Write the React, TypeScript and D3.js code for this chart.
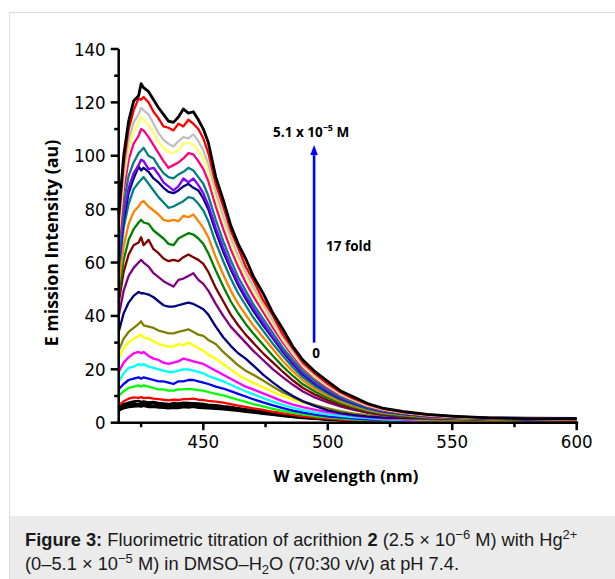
import React from 'react';
import * as d3 from 'd3';

// shared wavelength grid (nm)
const wavelengths = [416, 418, 420, 422, 424, 425, 426, 428, 430, 432, 434, 436, 438, 440, 442, 444, 446, 448, 450, 452, 455, 458, 461, 464, 467, 470, 474, 478, 482, 486, 490, 495, 500, 505, 510, 516, 522, 530, 540, 550, 565, 580, 600];

// emission spectra, lowest Hg2+ concentration first
const k1 = [4.5, 5.4, 5.8, 6, 6.2, 6, 6.3, 5.8, 5.9, 5.7, 5.6, 5.4, 5.6, 5.5, 5.8, 5.7, 5.9, 5.6, 5.5, 5.4, 5.2, 5, 4.7, 4.4, 4.1, 3.8, 3.3, 2.9, 2.5, 2.1, 1.7, 1.4, 1.1, 0.9, 0.7, 0.6, 0.5, 0.4, 0.3, 0.3, 0.2, 0.2, 0.2];
const k2 = [5, 6, 6.3, 6.6, 6.8, 6.5, 6.7, 6.4, 6.2, 6.4, 6, 6.1, 5.9, 6.2, 6.3, 6.1, 6.4, 6.2, 6, 5.9, 5.7, 5.4, 5.1, 4.7, 4.4, 4.1, 3.6, 3.1, 2.7, 2.2, 1.9, 1.5, 1.2, 1, 0.8, 0.6, 0.5, 0.4, 0.3, 0.3, 0.3, 0.2, 0.2];
const k3 = [5.5, 6.5, 7, 7.3, 7, 7.5, 7.2, 7, 7.2, 6.8, 6.6, 6.8, 6.5, 6.7, 6.6, 7, 6.8, 6.6, 6.5, 6.3, 6.1, 5.8, 5.5, 5.1, 4.7, 4.4, 3.9, 3.4, 2.9, 2.4, 2, 1.6, 1.3, 1, 0.8, 0.7, 0.5, 0.4, 0.4, 0.3, 0.3, 0.3, 0.3];
const k4 = [6, 7, 7.5, 8, 8.2, 7.8, 8, 7.6, 7.8, 7.4, 7.2, 7, 7.3, 7.2, 7.5, 7.4, 7.3, 7.2, 7, 6.8, 6.6, 6.2, 5.9, 5.5, 5.1, 4.7, 4.2, 3.6, 3.1, 2.6, 2.2, 1.7, 1.4, 1.1, 0.9, 0.7, 0.6, 0.5, 0.4, 0.4, 0.3, 0.3, 0.3];
const red1 = [6.5, 8, 9, 9.5, 9.3, 9.6, 9.2, 9.4, 9, 8.8, 8.6, 8.4, 8.6, 8.5, 8.8, 8.8, 9, 8.6, 8.5, 8.2, 7.9, 7.5, 7, 6.4, 5.9, 5.4, 4.8, 4.1, 3.5, 2.9, 2.4, 1.9, 1.5, 1.2, 1, 0.8, 0.7, 0.6, 0.5, 0.5, 0.4, 0.4, 0.4];
const lime = [10, 11.8, 13, 13.5, 14, 13.5, 14, 13.5, 13, 12.5, 12.5, 12, 12, 12.5, 12.5, 12.7, 12.5, 12.2, 12, 11.5, 10.8, 10.2, 9.4, 8.6, 7.8, 7, 6.1, 5.2, 4.4, 3.7, 3.1, 2.5, 2, 1.6, 1.3, 1.1, 0.9, 0.7, 0.6, 0.5, 0.5, 0.4, 0.4];
const blue = [12.5, 14.5, 16, 16.5, 17, 16.5, 17, 16.5, 16, 15.5, 15.5, 15, 14.5, 15.5, 15.5, 16, 16, 15.5, 15, 14.5, 13.5, 12.8, 11.8, 10.8, 9.8, 8.8, 7.6, 6.5, 5.5, 4.5, 3.8, 3, 2.4, 2, 1.6, 1.3, 1.1, 0.9, 0.7, 0.6, 0.5, 0.5, 0.5];
const cyan = [15.5, 18.5, 20.5, 21, 22, 21.5, 22, 21, 20.5, 20, 19.5, 19, 19, 19.5, 20, 20, 19.5, 19, 18.5, 17.5, 16.5, 15.5, 14.2, 13, 11.8, 10.7, 9.2, 7.9, 6.7, 5.6, 4.7, 3.8, 3.1, 2.6, 2.1, 1.7, 1.3, 1, 0.8, 0.7, 0.6, 0.6, 0.5];
const magenta = [19, 22.5, 24.5, 26, 26.5, 26, 26.5, 25, 24, 23.5, 22.5, 22, 22.5, 23, 24, 23.5, 23, 22.5, 22, 21, 19.5, 18, 16.5, 15, 13.5, 12.5, 11, 9.5, 8, 6.8, 5.8, 4.8, 4, 3.3, 2.7, 2.1, 1.6, 1.2, 0.9, 0.8, 0.7, 0.7, 0.6];
const yellow1 = [24, 28, 30, 31.5, 32.5, 33, 32, 31.5, 30.5, 29.5, 29, 28.5, 28.5, 29.5, 29, 30, 29, 28, 27, 25.5, 24, 22, 20, 18, 16.3, 15, 13.3, 11.5, 10, 8.7, 7.5, 6.2, 5.2, 4.2, 3.4, 2.6, 2, 1.5, 1.1, 0.9, 0.8, 0.7, 0.7];
const olive = [27, 31.5, 34, 35.5, 37, 38, 36.5, 36, 35.5, 34.5, 34, 33.5, 33.5, 34, 34.5, 35, 34, 33, 32.5, 31, 29.5, 26.5, 24, 21.5, 19.5, 18, 15.8, 13.5, 11.3, 9.6, 8, 6.6, 5.4, 4.3, 3.5, 2.7, 2.1, 1.6, 1.2, 1, 0.9, 0.8, 0.8];
const navy1 = [34, 41, 45, 47.5, 49, 48.5, 48.5, 48, 47, 45.5, 44, 43.5, 43.5, 44, 44.5, 45, 44.5, 43.5, 42.5, 40.5, 36, 32, 28.8, 26, 24, 21.5, 18, 15, 12.3, 10, 8, 6.2, 4.6, 3.6, 2.9, 2.3, 1.9, 1.7, 1.6, 1.7, 1.9, 1.8, 1.75];
const purple = [40, 49.5, 55, 58, 60, 61, 60, 58.5, 56, 54.5, 53, 52, 51, 53.5, 54, 55, 56, 53.5, 52, 49.5, 44.5, 40, 36, 33, 30, 27, 23.5, 20, 17, 14.2, 11.7, 9.4, 7.6, 6.1, 4.9, 3.7, 2.8, 2.2, 1.7, 1.4, 1.1, 1, 0.9];
const maroon = [45, 56.5, 63, 66.5, 67.5, 69.5, 66.5, 68.5, 65, 63.5, 61.5, 60.5, 61, 60.5, 62, 63, 62, 61, 59.5, 56.5, 50.5, 45.5, 40.5, 36.5, 33, 30, 26, 22.5, 19, 15.8, 13, 10.5, 8.4, 6.7, 5.4, 4, 3.1, 2.4, 1.8, 1.5, 1.2, 1, 0.9];
const green = [48, 61, 68.5, 72.5, 75, 76, 75, 74.5, 72, 70.5, 69, 67, 66.5, 69, 70, 71, 70.5, 69, 67, 63.5, 57, 51, 45.5, 41, 37, 33.5, 29.2, 25, 21, 17.5, 14.4, 11.6, 9.3, 7.3, 5.9, 4.4, 3.4, 2.6, 2, 1.6, 1.2, 1, 0.9];
const orange = [52, 66, 74.5, 79, 81, 82.5, 83, 81, 79.5, 78, 76, 75.5, 76, 75.5, 77.5, 77, 78, 75.5, 73, 69.5, 62, 55.5, 49.5, 44.5, 40.5, 36.5, 32, 27.5, 23, 19.2, 15.8, 12.6, 10.1, 8, 6.4, 4.8, 3.7, 2.9, 2.1, 1.7, 1.3, 1.1, 1];
const teal1 = [57, 73, 82, 87.5, 90, 91, 92, 89.5, 87, 84.5, 82.5, 80.5, 81, 82, 83, 84.5, 84, 82, 79.5, 75.5, 67.5, 60.5, 54, 48.5, 44, 39.5, 34.5, 29.5, 25, 20.7, 17, 13.6, 10.9, 8.6, 6.9, 5.2, 4, 3.1, 2.3, 1.8, 1.4, 1.2, 1];
const navy2 = [60, 76, 86, 91.5, 96, 94.5, 95.5, 94, 91.5, 90, 88, 86.5, 86, 87, 88.5, 89.5, 88, 87, 84, 80, 71.5, 64, 57.5, 51.5, 46.5, 42, 36.5, 31.5, 26.5, 22, 18, 14.5, 11.6, 9.2, 7.4, 5.6, 4.3, 3.3, 2.5, 2, 1.5, 1.3, 1.1];
const violet = [61, 78, 88, 93.5, 96.5, 98.5, 98, 95, 95.5, 93, 90, 88.5, 87, 88.5, 91.5, 90, 91.5, 89, 86, 81.5, 73, 65.5, 58.5, 52.5, 47.5, 43, 37.5, 32, 27, 22.5, 18.5, 14.8, 11.9, 9.4, 7.6, 5.7, 4.4, 3.4, 2.5, 2, 1.6, 1.3, 1.1];
const teal2 = [64, 82, 92.5, 97.5, 101, 102, 103, 100, 99, 96, 93.5, 92, 91.5, 93, 94, 95.5, 94.5, 92, 89.5, 85, 76, 68, 61, 54.5, 49.5, 44.5, 39, 33.5, 28, 23.5, 19.3, 15.5, 12.4, 9.8, 7.9, 5.9, 4.6, 3.5, 2.6, 2.1, 1.6, 1.4, 1.2];
const pink = [68, 87, 98.5, 104.5, 107.5, 110, 109.5, 107, 104, 101, 98, 95.5, 96.5, 97.5, 99, 101, 100.5, 98, 95, 90.5, 81, 72.5, 65, 58.5, 52.5, 47.5, 41.5, 35.5, 30, 25, 20.5, 16.5, 13.2, 10.4, 8.4, 6.2, 4.8, 3.7, 2.7, 2.2, 1.7, 1.4, 1.2];
const yellow2 = [71, 91, 102.5, 109, 112.5, 114.5, 113.5, 111.5, 108.5, 105, 103, 101.5, 101, 102, 104.5, 105, 104, 102, 99, 94, 84, 75.5, 67.5, 60.5, 55, 49.5, 43, 37, 31, 25.8, 21.2, 17, 13.6, 10.7, 8.6, 6.4, 5, 3.8, 2.8, 2.2, 1.7, 1.4, 1.2];
const gray = [73, 94, 106, 112.5, 115.5, 118, 117, 115.5, 112, 108.5, 106, 104.5, 103.5, 105.5, 107, 106.5, 108, 105.5, 102, 97, 86.5, 77.5, 69.5, 62.5, 56.5, 51, 44.5, 38, 32, 26.5, 21.8, 17.5, 14, 11, 8.8, 6.6, 5.1, 3.9, 2.9, 2.3, 1.8, 1.5, 1.3];
const red2 = [76, 97, 110, 117, 121.5, 121, 122, 120, 116.5, 114, 111, 110.5, 109.5, 112, 111, 113.5, 112, 110, 106.5, 101, 89.5, 81, 72, 65.5, 58.5, 53.5, 46, 40, 33, 27.8, 22.5, 18.3, 14.6, 11.5, 9.2, 6.9, 5.3, 4, 3, 2.4, 1.8, 1.5, 1.3];
const k5 = [78, 100, 113, 120.5, 122.5, 127, 125.5, 124, 121, 118, 115.5, 113, 112.5, 114.5, 117.5, 116, 116.5, 113.5, 110, 105, 92, 83.5, 74, 67, 61.5, 55, 48.5, 41, 35, 28.5, 23.5, 19, 15.5, 12, 9.8, 7.2, 5.5, 4.2, 3.1, 2.5, 1.8, 1.5, 1.4];

const spectra = [k1, k2, k3, k4, red1, lime, blue, cyan, magenta, yellow1, olive, navy1, purple, maroon, green, orange, teal1, navy2, violet, teal2, pink, yellow2, gray, red2, k5];
const spectrumColors = ['#000000', '#000000', '#000000', '#000000', '#ff0000', '#00ff00', '#0000ff', '#00ffff', '#ff00ff', '#ffff00', '#808000', '#000080', '#800080', '#800000', '#008000', '#ff8000', '#008080', '#000080', '#8000ff', '#008080', '#ff0080', '#ffff66', '#c0c0c0', '#ff0000', '#000000'];

const xMajor = [450, 500, 550, 600];
const xMinor = [425, 475, 525, 575];
const yMajor = [0, 20, 40, 60, 80, 100, 120, 140];
const yMinor = [10, 30, 50, 70, 90, 110, 130];

// titration arrow (wavelength, intensity from -> to)
const arrowWl = 494.5;
const arrowFrom = 30;
const arrowTo = 104;

const tickFont = "'DejaVu Sans Condensed', 'DejaVu Sans', sans-serif";
const labelFont = "'Open Sans', 'DejaVu Sans', sans-serif";

export default function App() {
  const x = d3.scaleLinear().domain([416, 600]).range([118.7, 576.7]);
  const y = d3.scaleLinear().domain([0, 140]).range([422.7, 49]);

  const line = d3.line<number>()
    .x((_, i) => x(wavelengths[i]))
    .y(d => y(d));

  const ax = x(arrowWl);

  return (
    <svg width={615} height={579} style={{ position: 'absolute', left: 0, top: 0 }}>
      <rect x={0} y={0} width={615} height={579} fill="#fff" />
      <rect x={9.5} y={12.5} width={640} height={600} fill="#fff" stroke="#dcdcdc" />
      <rect x={10} y={516} width={605} height={63} fill="#ebebeb" />

      {/* spectra */}
      <g fill="none" strokeLinejoin="round">
        {spectra.map((s, i) => (
          <path key={i} d={line(s) || ''} stroke={spectrumColors[i]}
            strokeWidth={i === spectra.length - 1 ? 2.8 : 2.3} />
        ))}
      </g>

      {/* axes */}
      <g stroke="#000" strokeWidth={2.5}>
        <line x1={x(416)} x2={x(416)} y1={y(0) + 1.2} y2={y(140)} />
        <line x1={x(416) - 1.2} x2={x(600) + 1.5} y1={y(0)} y2={y(0)} />
        {yMajor.map(v => <line key={'ym' + v} x1={x(416) - 8} x2={x(416)} y1={y(v)} y2={y(v)} />)}
        {yMinor.map(v => <line key={'yn' + v} x1={x(416) - 4.5} x2={x(416)} y1={y(v)} y2={y(v)} />)}
        {xMajor.map(v => <line key={'xm' + v} x1={x(v)} x2={x(v)} y1={y(0)} y2={y(0) + 7.5} />)}
        {xMinor.map(v => <line key={'xn' + v} x1={x(v)} x2={x(v)} y1={y(0)} y2={y(0) + 4.5} />)}
      </g>
      <g fontFamily={tickFont} fontSize={18.5} fill="#000">
        {yMajor.map(v => (
          <text key={'yl' + v} x={x(416) - 13} y={y(v)} textAnchor="end" dominantBaseline="central">{v}</text>
        ))}
        {xMajor.map(v => (
          <text key={'xl' + v} x={x(v)} y={y(0) + 25} textAnchor="middle">{v}</text>
        ))}
      </g>
      <text x={346} y={482} textAnchor="middle" fontFamily={labelFont} fontWeight="bold" fontSize={16.5}>W avelength (nm)</text>
      <text transform="translate(58,243) rotate(-90)" textAnchor="middle" fontFamily={labelFont} fontWeight="bold" fontSize={17.8}>E mission Intensity (au)</text>

      {/* arrow */}
      <line x1={ax} x2={ax} y1={y(arrowFrom)} y2={y(arrowTo) + 10} stroke="#0000ff" strokeWidth={2.6} />
      <path d={`M${ax - 3.8},${y(arrowTo) + 10} L${ax},${y(arrowTo)} L${ax + 3.8},${y(arrowTo) + 10} Z`} fill="#0000ff" />
      <g fontFamily={labelFont} fontWeight="bold" fontSize={13.5} fill="#000">
        <text x={ax - 41} y={y(arrowTo) - 8}>5.1 x 10<tspan dy={-6} fontSize={9}>−5</tspan><tspan dy={6}> M</tspan></text>
        <text x={ax + 12} y={y(66) + 4}>17 fold</text>
        <text x={ax + 2} y={y(arrowFrom) + 15} textAnchor="middle">0</text>
      </g>

      {/* caption */}
      <g fontFamily="'Liberation Sans', Arial, sans-serif" fontSize={18.3} fill="#1a1a1a">
        <text x={25} y={546}>
          <tspan fontWeight="bold">Figure 3:</tspan> Fluorimetric titration of acrithion <tspan fontWeight="bold">2</tspan> (2.5 × 10<tspan dy={-7} fontSize={13}>−6</tspan><tspan dy={7}> M) with Hg</tspan><tspan dy={-7} fontSize={13}>2+</tspan>
        </text>
        <text x={25} y={570}>
          (0–5.1 × 10<tspan dy={-7} fontSize={13}>−5</tspan><tspan dy={7}> M) in DMSO–H</tspan><tspan dy={4} fontSize={13}>2</tspan><tspan dy={-4}>O (70:30 v/v) at pH 7.4.</tspan>
        </text>
      </g>
    </svg>
  );
}
